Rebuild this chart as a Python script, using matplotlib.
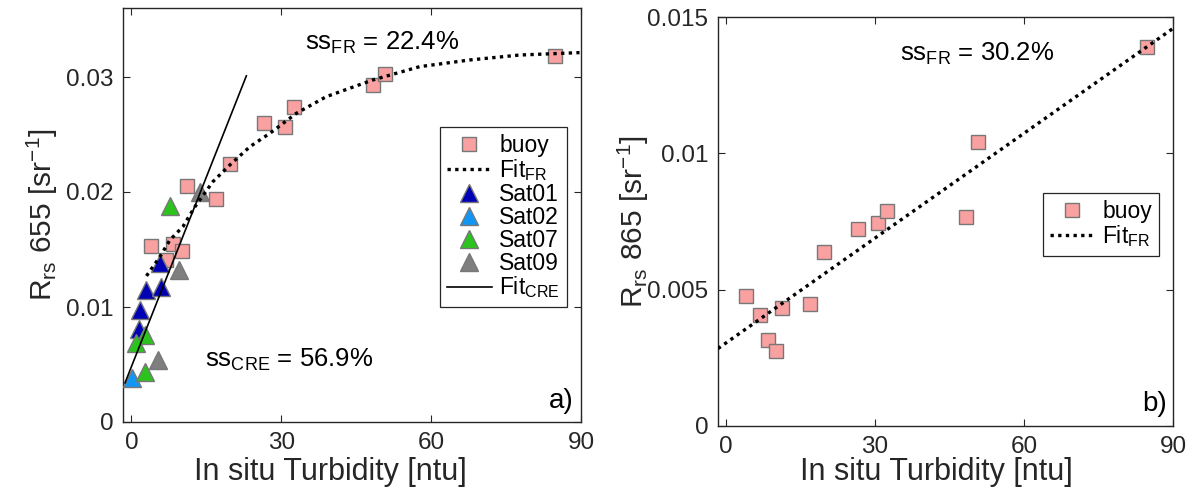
import matplotlib
matplotlib.use("Agg")
import matplotlib.pyplot as plt
import numpy as np

plt.rcParams['font.family'] = ['Liberation Sans', 'DejaVu Sans']
plt.rcParams['mathtext.fontset'] = 'custom'
plt.rcParams['mathtext.rm'] = 'Liberation Sans'
plt.rcParams['mathtext.it'] = 'Liberation Sans:italic'
plt.rcParams['mathtext.bf'] = 'Liberation Sans:bold'

# ---------------- data ----------------
buoy_turb = [4.0, 6.9, 8.4, 10.1, 11.2, 17.0, 19.7, 26.6, 30.7, 32.5, 48.4, 50.8, 84.8]
buoy_rrs655 = [0.01533, 0.01409, 0.0155, 0.01487, 0.02052, 0.01939, 0.02243,
               0.0260, 0.02562, 0.02736, 0.0293, 0.03029, 0.03185]
buoy_rrs865 = [0.00475, 0.00407, 0.00315, 0.00274, 0.00434, 0.00449, 0.00637,
               0.00723, 0.00744, 0.0079, 0.00766, 0.01042, 0.0139]

sat01_turb = [5.8, 3.0, 6.0, 1.8, 1.5]
sat01_rrs = [0.0138, 0.01148, 0.01171, 0.00974, 0.00806]
sat02_turb = [0.2]
sat02_rrs = [0.00385]
sat07_turb = [7.8, 2.7, 0.9, 2.7]
sat07_rrs = [0.01878, 0.00754, 0.00684, 0.00437]
sat09_turb = [13.7, 9.5, 5.3]
sat09_rrs = [0.02003, 0.01322, 0.00539]

# fitted curves
fitfr655_x = [3.0, 5.7, 7.7, 10.3, 12.7, 16.3, 19.7, 23.7, 27.7, 33.0, 39.0,
              48.3, 57.7, 67.7, 77.7, 89.7]
fitfr655_y = [0.0127, 0.01438, 0.01583, 0.01699, 0.01872, 0.0209, 0.02235, 0.02394,
              0.0251, 0.02684, 0.02829, 0.02974, 0.0309, 0.03148, 0.03191, 0.03212]
fitcre_x = [-1.3, 23.0]
fitcre_y = [0.0034, 0.0301]
fitfr865_x = [-1.6, 90.0]
fitfr865_y = [0.00284, 0.01458]

xticks = [0, 30, 60, 90]
yticks_a = [0, 0.01, 0.02, 0.03]
yticklabels_a = ['0', '0.01', '0.02', '0.03']
yticks_b = [0, 0.005, 0.01, 0.015]
yticklabels_b = ['0', '0.005', '0.01', '0.015']

# ---------------- style ----------------
c_buoy = '#F9A0A0'
c_edge = '#777777'
c_sat01 = '#0000B4'
c_sat02 = '#1296F5'
c_sat07 = '#2DC31E'
c_sat09 = '#7F7F7F'
spine_c = '#262626'

fig = plt.figure(figsize=(12.02, 4.95), dpi=100)
axA = fig.add_axes([123/1202, (495-422)/495, 458/1202, 414/495])
axB = fig.add_axes([718/1202, (495-426)/495, 455/1202, 409/495])

def style_axes(ax):
    for s in ax.spines.values():
        s.set_color(spine_c)
        s.set_linewidth(1.0)
    ax.tick_params(direction='in', top=True, right=True, length=5, width=0.8,
                   color=spine_c, labelsize=17.5, labelcolor='#262626', pad=7)

def make_legend(ax, anchor):
    leg = ax.legend(loc='upper right', bbox_to_anchor=anchor, fontsize=16.5,
                    frameon=True, fancybox=False, framealpha=1, edgecolor=spine_c,
                    handlelength=2.0, handletextpad=0.3, labelspacing=0.0,
                    borderpad=0.3, borderaxespad=0)
    leg.get_frame().set_linewidth(0.9)
    return leg

# ---- panel a ----
ax = axA
ax.plot(buoy_turb, buoy_rrs655, 's', ms=10, mfc=c_buoy, mec=c_edge, mew=1.0,
        ls='none', label='buoy', zorder=2)
ax.plot(fitfr655_x, fitfr655_y, color='black', ls=(0, (1, 1.3)), lw=2.4,
        label='Fit$_{\\mathrm{FR}}$', zorder=4)
tri = dict(marker='^', ms=13, mec=c_edge, mew=1.0, ls='none', zorder=3)
ax.plot(sat01_turb, sat01_rrs, mfc=c_sat01, label='Sat01', **tri)
ax.plot(sat02_turb, sat02_rrs, mfc=c_sat02, label='Sat02', **tri)
ax.plot(sat07_turb, sat07_rrs, mfc=c_sat07, label='Sat07', **tri)
ax.plot(sat09_turb, sat09_rrs, mfc=c_sat09, label='Sat09', **tri)
ax.plot(fitcre_x, fitcre_y, color='black', lw=1.2, label='Fit$_{\\mathrm{CRE}}$', zorder=4)

ax.set_xlim(-1.7, 90)
ax.set_ylim(0, 0.036)
ax.set_xticks(xticks)
ax.set_yticks(yticks_a)
ax.set_yticklabels(yticklabels_a)
style_axes(ax)
ax.set_xlabel('In situ Turbidity [ntu]', fontsize=22, color='#262626')
ax.xaxis.set_label_coords(0.452, -0.085)
ax.set_ylabel('R$_{\\mathrm{rs}}$ 655 [sr$^{\\mathrm{-1}}$]', fontsize=21.5, color='#262626')
ax.yaxis.set_label_coords(-0.138, 0.5)
ax.text(34.7, 0.0324, 'ss$_{\\mathrm{FR}}$ = 22.4%', fontsize=18.5, va='baseline', ha='left')
ax.text(14.7, 0.0048, 'ss$_{\\mathrm{CRE}}$ = 56.9%', fontsize=18.5, va='baseline', ha='left')
ax.text(88.5, 0.0012, 'a)', fontsize=20, va='baseline', ha='right')
make_legend(ax, (0.969, 0.713))

# ---- panel b ----
ax = axB
ax.plot(buoy_turb, buoy_rrs865, 's', ms=10, mfc=c_buoy, mec=c_edge, mew=1.0,
        ls='none', label='buoy', zorder=2)
ax.plot(fitfr865_x, fitfr865_y, color='black', ls=(0, (1, 1.3)), lw=2.4,
        label='Fit$_{\\mathrm{FR}}$', zorder=4)
ax.set_xlim(-1.6, 90)
ax.set_ylim(0, 0.015)
ax.set_xticks(xticks)
ax.set_yticks(yticks_b)
ax.set_yticklabels(yticklabels_b)
style_axes(ax)
ax.set_xlabel('In situ Turbidity [ntu]', fontsize=22, color='#262626')
ax.xaxis.set_label_coords(0.481, -0.076)
ax.set_ylabel('R$_{\\mathrm{rs}}$ 865 [sr$^{\\mathrm{-1}}$]', fontsize=21.5, color='#262626')
ax.yaxis.set_label_coords(-0.147, 0.5)
ax.text(35.0, 0.01341, 'ss$_{\\mathrm{FR}}$ = 30.2%', fontsize=18.5, va='baseline', ha='left')
ax.text(88.8, 0.00055, 'b)', fontsize=20, va='baseline', ha='right')
make_legend(ax, (0.969, 0.570))

fig.savefig('out.png', dpi=100)
